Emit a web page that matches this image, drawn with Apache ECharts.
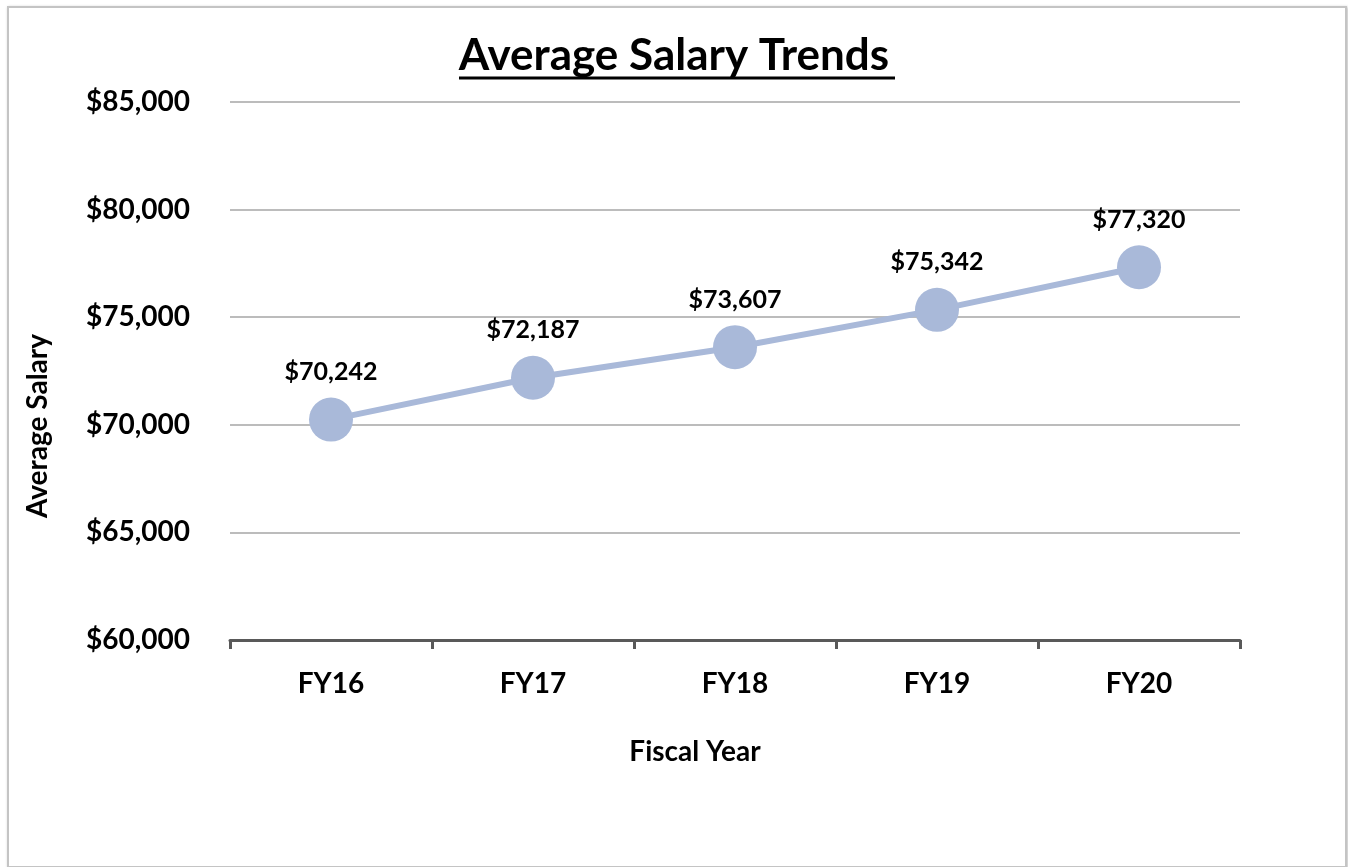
<!DOCTYPE html>
<html>
<head>
<meta charset="utf-8">
<script src="https://cdn.jsdelivr.net/npm/echarts@6/dist/echarts.min.js"></script>
<style>
    html, body { margin: 0; padding: 0; background: #fff; }
    #frame {
        position: absolute;
        left: 7px; top: 6px;
        width: 1336px; height: 858px;
        border: 2px solid #c4c4c4;
        box-shadow: 1px 1px 3px #bbb;
        background: #fff;
    }
    #main { position: absolute; left: 0; top: 0; width: 1348px; height: 867px; }
</style>
</head>
<body>
<div id="frame"></div>
<div id="main"></div>
<script type="text/javascript">
    var years = ['FY16', 'FY17', 'FY18', 'FY19', 'FY20'];
    var salaries = [70242, 72187, 73607, 75342, 77320];
    var yTicks = { min: 60000, max: 85000, step: 5000 };

    function money(v) {
        return '$' + v.toLocaleString('en-US');
    }

    var font = 'Lato, "Open Sans", sans-serif';
    var myChart = echarts.init(document.getElementById('main'));

    var option = {
        title: {
            text: 'Average Salary Trends',
            left: 'center',
            top: 29,
            textStyle: { fontFamily: font, fontSize: 44, fontWeight: 'bold', color: '#000' }
        },
        graphic: [{
            type: 'line',
            shape: { x1: 459, y1: 78, x2: 895, y2: 78 },
            style: { stroke: '#000', lineWidth: 3 }
        }],
        grid: { left: 230, right: 108, top: 102, bottom: 227 },
        xAxis: {
            type: 'category',
            data: years,
            boundaryGap: true,
            name: 'Fiscal Year',
            nameLocation: 'middle',
            nameGap: 98,
            nameTextStyle: { fontFamily: font, fontSize: 28, fontWeight: 'bold', color: '#000', padding: [0, 80, 0, 0] },
            axisLine: { lineStyle: { color: '#595959', width: 3 } },
            axisTick: { show: true, length: 9, lineStyle: { color: '#595959', width: 3 } },
            axisLabel: { fontFamily: font, fontSize: 28, fontWeight: 'bold', color: '#000', margin: 30 }
        },
        yAxis: {
            type: 'value',
            min: yTicks.min,
            max: yTicks.max,
            interval: yTicks.step,
            name: 'Average Salary',
            nameLocation: 'middle',
            nameGap: 178,
            nameTextStyle: { fontFamily: font, fontSize: 28, fontWeight: 'bold', color: '#000', padding: [0, 110, 0, 0] },
            axisLine: { show: false },
            axisTick: { show: false },
            splitLine: { lineStyle: { color: '#a6a6a6', width: 1.5 } },
            axisLabel: {
                fontFamily: font, fontSize: 28, fontWeight: 'bold', color: '#000', margin: 40,
                formatter: money
            }
        },
        series: [{
            type: 'line',
            data: salaries,
            symbol: 'circle',
            symbolSize: 44,
            lineStyle: { color: '#a9b9d9', width: 6 },
            itemStyle: { color: '#a9b9d9' },
            label: {
                show: true,
                position: 'top',
                distance: 13,
                fontFamily: font, fontSize: 25, fontWeight: 'bold', color: '#000',
                formatter: function (p) { return money(p.value); }
            },
            animation: false
        }]
    };

    myChart.setOption(option);
</script>
</body>
</html>
